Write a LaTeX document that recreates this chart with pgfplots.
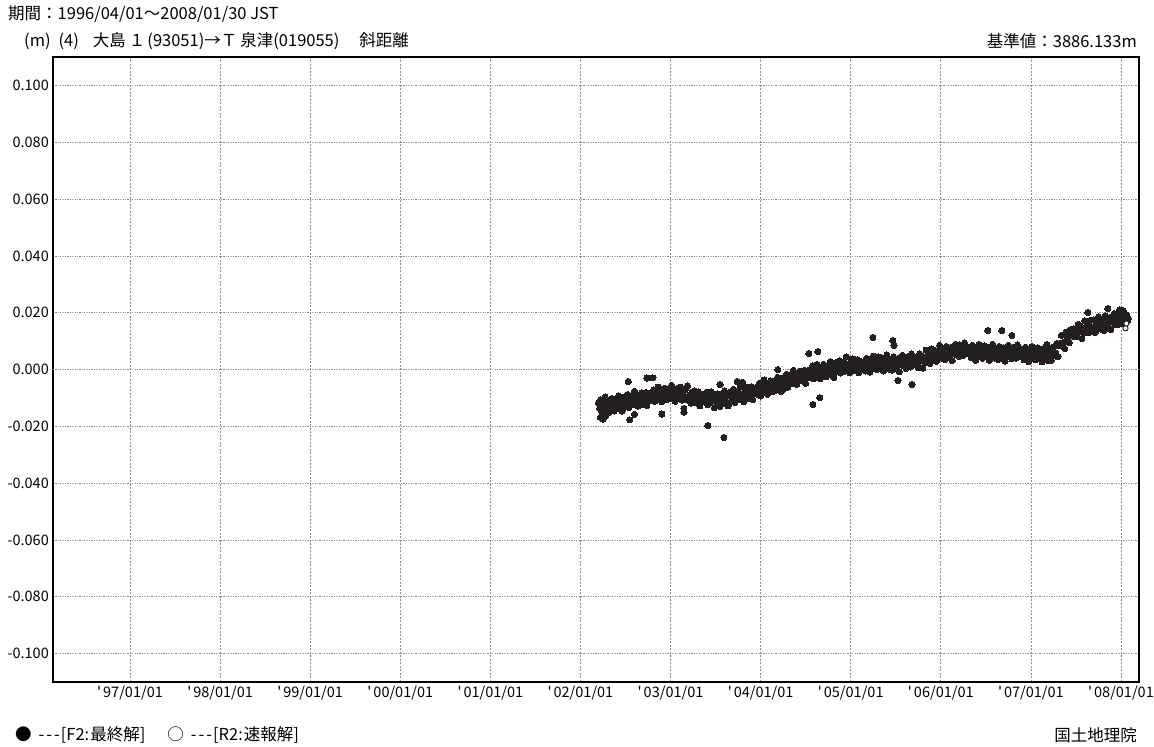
\documentclass[border=0pt]{standalone}
\usepackage{fontspec}
\setmainfont{Noto Sans CJK JP}
\usepackage{pgfplots}
\usepackage{pgfplotstable}
\pgfplotsset{compat=1.18}
\definecolor{dot}{HTML}{231F20}
\definecolor{gridc}{HTML}{8C8C8C}

% F2 final solutions: x = decimal year, y = slope-distance change in mm
\pgfplotstableread{
x y
2002.2000 -11.7
2002.2125 -13.7
2002.2250 -10.6
2002.2375 -15.0
2002.2500 -12.5
2002.2625 -14.1
2002.2750 -9.7
2002.2875 -12.9
2002.3000 -11.0
2002.3125 -15.3
2002.3250 -11.3
2002.3375 -13.3
2002.3500 -10.2
2002.3625 -12.8
2002.3750 -14.6
2002.3875 -10.5
2002.4000 -11.8
2002.4125 -13.7
2002.4250 -9.3
2002.4375 -12.8
2002.4500 -10.6
2002.4625 -14.6
2002.4750 -11.0
2002.4875 -9.7
2002.5000 -12.9
2002.5125 -11.4
2002.5250 -8.8
2002.5375 -13.4
2002.5500 -10.4
2002.5625 -11.7
2002.5750 -9.1
2002.5875 -12.4
2002.6000 -7.7
2002.6125 -11.8
2002.6250 -10.5
2002.6375 -12.9
2002.6500 -9.1
2002.6625 -10.5
2002.6750 -8.3
2002.6875 -12.3
2002.7000 -9.4
2002.7125 -10.6
2002.7250 -8.1
2002.7375 -12.7
2002.7500 -9.7
2002.7625 -8.4
2002.7750 -10.9
2002.7875 -8.3
2002.8000 -10.3
2002.8125 -7.2
2002.8250 -11.2
2002.8375 -8.7
2002.8500 -10.6
2002.8625 -6.2
2002.8750 -9.4
2002.8875 -7.0
2002.9000 -11.3
2002.9125 -7.7
2002.9250 -9.7
2002.9375 -6.6
2002.9500 -8.8
2002.9625 -10.6
2002.9750 -6.8
2002.9875 -8.1
2003.0000 -10.0
2003.0125 -5.6
2003.0250 -9.1
2003.0375 -7.2
2003.0500 -11.2
2003.0625 -7.6
2003.0750 -6.7
2003.0875 -9.9
2003.1000 -8.8
2003.1125 -6.2
2003.1250 -10.8
2003.1375 -8.1
2003.1500 -9.4
2003.1625 -7.2
2003.1750 -10.5
2003.1875 -5.8
2003.2000 -10.3
2003.2125 -9.0
2003.2250 -11.8
2003.2375 -8.0
2003.2500 -9.4
2003.2625 -7.6
2003.2750 -11.6
2003.2875 -9.2
2003.3000 -10.4
2003.3125 -7.9
2003.3250 -12.8
2003.3375 -9.8
2003.3500 -8.9
2003.3625 -11.4
2003.3750 -8.8
2003.3875 -11.1
2003.4000 -8.0
2003.4125 -12.4
2003.4250 -9.9
2003.4375 -11.8
2003.4500 -7.8
2003.4625 -11.0
2003.4750 -9.1
2003.4875 -13.4
2003.5000 -9.8
2003.5125 -11.7
2003.5250 -8.6
2003.5375 -11.2
2003.5500 -13.0
2003.5625 -9.2
2003.5750 -10.1
2003.5875 -12.0
2003.6000 -7.6
2003.6125 -11.1
2003.6250 -9.2
2003.6375 -12.8
2003.6500 -9.2
2003.6625 -7.9
2003.6750 -11.1
2003.6875 -10.0
2003.7000 -7.0
2003.7125 -11.6
2003.7250 -8.6
2003.7375 -9.9
2003.7500 -7.7
2003.7625 -10.5
2003.7750 -5.8
2003.7875 -9.9
2003.8000 -8.6
2003.8125 -11.4
2003.8250 -7.0
2003.8375 -8.4
2003.8500 -6.2
2003.8625 -10.2
2003.8750 -7.8
2003.8875 -8.5
2003.9000 -6.0
2003.9125 -10.6
2003.9250 -7.6
2003.9375 -6.7
2003.9500 -8.6
2003.9625 -6.0
2003.9750 -8.0
2003.9875 -4.9
2004.0000 -9.3
2004.0125 -6.2
2004.0250 -8.1
2004.0375 -3.7
2004.0500 -6.9
2004.0625 -5.0
2004.0750 -8.7
2004.0875 -5.1
2004.1000 -7.1
2004.1125 -4.0
2004.1250 -6.6
2004.1375 -7.8
2004.1500 -4.0
2004.1625 -5.3
2004.1750 -7.2
2004.1875 -2.8
2004.2000 -5.7
2004.2125 -3.8
2004.2250 -7.8
2004.2375 -4.2
2004.2500 -2.9
2004.2625 -5.4
2004.2750 -4.3
2004.2875 -1.7
2004.3000 -6.3
2004.3125 -3.3
2004.3250 -3.9
2004.3375 -1.7
2004.3500 -5.0
2004.3625 -0.3
2004.3750 -4.4
2004.3875 -2.4
2004.4000 -5.2
2004.4125 -1.4
2004.4250 -2.8
2004.4375 -0.6
2004.4500 -4.0
2004.4625 -1.6
2004.4750 -2.8
2004.4875 -0.3
2004.5000 -4.9
2004.5125 -1.3
2004.5250 -0.4
2004.5375 -2.9
2004.5500 -0.3
2004.5625 -2.3
2004.5750 1.2
2004.5875 -3.2
2004.6000 -0.7
2004.6125 -2.6
2004.6250 1.8
2004.6375 -0.9
2004.6500 1.0
2004.6625 -3.3
2004.6750 0.3
2004.6875 -1.7
2004.7000 1.8
2004.7125 -0.8
2004.7250 -2.6
2004.7375 1.2
2004.7500 -0.1
2004.7625 -1.6
2004.7750 2.8
2004.7875 -0.7
2004.8000 1.2
2004.8125 -2.8
2004.8250 1.2
2004.8375 2.5
2004.8500 -0.7
2004.8625 0.4
2004.8750 3.0
2004.8875 -1.2
2004.9000 1.8
2004.9125 0.5
2004.9250 2.7
2004.9375 -0.6
2004.9500 4.5
2004.9625 0.4
2004.9750 1.7
2004.9875 -1.1
2005.0000 2.7
2005.0125 1.5
2005.0250 3.7
2005.0375 -0.3
2005.0500 2.1
2005.0625 0.9
2005.0750 3.5
2005.0875 -1.1
2005.1000 1.9
2005.1125 2.8
2005.1250 0.3
2005.1375 0.6
2005.1500 2.6
2005.1625 -0.5
2005.1750 3.9
2005.1875 1.4
2005.2000 3.5
2005.2125 -0.9
2005.2250 2.3
2005.2375 0.4
2005.2500 4.7
2005.2625 1.1
2005.2750 3.1
2005.2875 0.0
2005.3000 2.6
2005.3125 4.4
2005.3250 0.7
2005.3375 2.0
2005.3500 3.9
2005.3625 -0.5
2005.3750 3.0
2005.3875 1.1
2005.4000 5.1
2005.4125 1.5
2005.4250 0.2
2005.4375 3.4
2005.4500 2.4
2005.4625 -0.2
2005.4750 4.4
2005.4875 1.4
2005.5000 2.7
2005.5125 0.6
2005.5250 3.9
2005.5375 -0.8
2005.5500 3.3
2005.5625 2.0
2005.5750 5.0
2005.5875 1.2
2005.6000 2.6
2005.6125 0.4
2005.6250 4.4
2005.6375 2.2
2005.6500 3.4
2005.6625 0.9
2005.6750 5.5
2005.6875 2.5
2005.7000 1.8
2005.7125 4.3
2005.7250 1.7
2005.7375 3.7
2005.7500 0.6
2005.7625 5.5
2005.7750 3.0
2005.7875 4.9
2005.8000 0.5
2005.8125 3.7
2005.8250 2.5
2005.8375 6.8
2005.8500 3.2
2005.8625 5.2
2005.8750 2.1
2005.8875 5.4
2005.9000 7.2
2005.9125 3.4
2005.9250 4.7
2005.9375 6.6
2005.9500 2.9
2005.9625 6.4
2005.9750 4.5
2005.9875 8.5
2006.0000 4.9
2006.0125 4.0
2006.0250 7.2
2006.0375 6.1
2006.0500 3.5
2006.0625 8.1
2006.0750 5.4
2006.0875 6.7
2006.1000 4.5
2006.1125 7.8
2006.1250 3.1
2006.1375 7.4
2006.1500 6.1
2006.1625 8.9
2006.1750 5.1
2006.1875 6.5
2006.2000 4.6
2006.2125 8.6
2006.2250 6.2
2006.2375 7.4
2006.2500 4.9
2006.2625 9.4
2006.2750 6.4
2006.2875 5.5
2006.3000 8.0
2006.3125 5.4
2006.3250 7.2
2006.3375 4.1
2006.3500 8.5
2006.3625 6.0
2006.3750 7.9
2006.3875 3.2
2006.4000 6.4
2006.4125 4.5
2006.4250 8.8
2006.4375 5.2
2006.4500 7.0
2006.4625 3.9
2006.4750 6.5
2006.4875 8.3
2006.5000 4.5
2006.5125 5.7
2006.5250 7.6
2006.5375 3.2
2006.5500 6.7
2006.5625 4.8
2006.5750 8.9
2006.5875 5.3
2006.6000 4.0
2006.6125 7.2
2006.6250 6.1
2006.6375 3.5
2006.6500 8.1
2006.6625 5.1
2006.6750 6.4
2006.6875 4.2
2006.7000 7.6
2006.7125 2.9
2006.7250 7.0
2006.7375 5.7
2006.7500 8.5
2006.7625 4.6
2006.7750 6.0
2006.7875 3.8
2006.8000 7.8
2006.8125 5.4
2006.8250 6.5
2006.8375 4.0
2006.8500 8.6
2006.8625 5.6
2006.8750 4.7
2006.8875 7.1
2006.9000 4.5
2006.9125 6.5
2006.9250 3.4
2006.9375 7.8
2006.9500 5.2
2006.9625 7.1
2006.9750 2.7
2006.9875 5.9
2007.0000 4.0
2007.0125 8.1
2007.0250 4.5
2007.0375 6.5
2007.0500 3.4
2007.0625 6.0
2007.0750 7.7
2007.0875 3.9
2007.1000 5.2
2007.1125 7.1
2007.1250 2.7
2007.1375 6.0
2007.1500 4.1
2007.1625 8.1
2007.1750 4.5
2007.1875 3.2
2007.2000 6.9
2007.2125 5.8
2007.2250 3.2
2007.2375 7.8
2007.2500 4.8
2007.2625 8.1
2007.2750 5.9
2007.2875 9.2
2007.3000 4.5
2007.3125 8.6
2007.3250 9.2
2007.3375 12.0
2007.3500 8.2
2007.3625 9.6
2007.3750 7.4
2007.3875 13.1
2007.4000 10.7
2007.4125 11.9
2007.4250 9.4
2007.4375 14.0
2007.4500 12.7
2007.4625 11.8
2007.4750 14.3
2007.4875 11.7
2007.5000 13.7
2007.5125 11.5
2007.5250 15.9
2007.5375 13.4
2007.5500 15.3
2007.5625 10.9
2007.5750 14.7
2007.5875 12.8
2007.6000 17.1
2007.6125 13.5
2007.6250 15.5
2007.6375 12.9
2007.6500 15.5
2007.6625 17.3
2007.6750 13.5
2007.6875 14.8
2007.7000 17.4
2007.7125 13.0
2007.7250 16.5
2007.7375 14.6
2007.7500 18.6
2007.7625 15.5
2007.7750 14.2
2007.7875 17.4
2007.8000 16.3
2007.8125 13.7
2007.8250 18.9
2007.8375 15.9
2007.8500 17.2
2007.8625 15.0
2007.8750 18.3
2007.8875 14.1
2007.9000 18.2
2007.9125 16.9
2007.9250 19.7
2007.9375 15.9
2007.9500 17.9
2007.9625 15.7
2007.9750 19.7
2007.9875 17.3
2008.0000 18.5
2008.0125 16.1
2008.0250 20.7
2008.0375 17.7
2008.0500 16.8
2008.0625 19.3
2008.0750 17.2
2008.0800 18.0
2002.2200 -16.8
2002.2500 -17.5
2002.2800 -16.2
2002.5300 -4.2
2002.5480 -17.7
2002.6000 -15.8
2002.7380 -3.0
2002.8050 -2.9
2002.9040 -15.7
2003.1480 -13.7
2003.1500 -15.0
2003.4140 -19.7
2003.5500 -5.3
2003.5920 -23.9
2003.7400 -4.2
2003.8000 -4.5
2004.1900 0.0
2004.2500 -7.0
2004.5350 5.6
2004.6350 6.3
2004.5800 -12.3
2004.6570 -9.9
2005.2460 11.3
2005.4680 10.2
2005.4800 8.5
2005.5240 -3.9
2005.6800 -5.3
2006.5220 13.7
2006.6780 13.7
2006.7890 12.0
2007.1770 8.8
2007.6320 20.1
2007.8540 21.5
2007.9870 21.0
}\fdata

% R2 rapid solutions
\pgfplotstableread{
x y
2008.0500 14.5
2008.0600 16.2
}\rdata

\begin{document}
\begin{tikzpicture}[x=1pt,y=1pt]
\useasboundingbox (0,0) rectangle (1154,747);
\begin{axis}[
  at={(53pt,65pt)}, anchor=south west,
  width=1086pt, height=625pt, scale only axis,
  xmin=1996.145, xmax=2008.2, ymin=-110, ymax=110,
  xtick={1997,1998,1999,2000,2001,2002,2003,2004,2005,2006,2007,2008},
  xticklabels={\textquotesingle\kern2pt 97/01/01,\textquotesingle\kern2pt 98/01/01,\textquotesingle\kern2pt 99/01/01,\textquotesingle\kern2pt 00/01/01,\textquotesingle\kern2pt 01/01/01,\textquotesingle\kern2pt 02/01/01,\textquotesingle\kern2pt 03/01/01,\textquotesingle\kern2pt 04/01/01,\textquotesingle\kern2pt 05/01/01,\textquotesingle\kern2pt 06/01/01,\textquotesingle\kern2pt 07/01/01,\textquotesingle\kern2pt 08/01/01},
  ytick={-100,-80,-60,-40,-20,0,20,40,60,80,100},
  yticklabels={-0.100,-0.080,-0.060,-0.040,-0.020,0.000,0.020,0.040,0.060,0.080,0.100},
  major tick length=0pt,
  grid=major,
  x grid style={gridc, line width=0.7pt, dash pattern=on 2pt off 1.5pt},
  y grid style={gridc, line width=0.7pt, dash pattern=on 1.2pt off 1.2pt},
  extra y ticks={0}, extra y tick labels={},
  extra y tick style={major grid style={solid, gray, line width=0.9pt}},
  axis line style={black, line width=1.6pt},
  tick label style={font=\fontsize{14.5}{16}\selectfont},
  yticklabel style={anchor=east, inner sep=0pt, xshift=-4pt},
  xticklabel style={anchor=north, inner sep=0pt, yshift=-4pt},
]
\addplot[only marks, mark=*, mark size=3.1pt, color=dot,
  mark options={draw=dot, fill=dot, line width=0pt}] table {\fdata};
\addplot[only marks, mark=*, mark size=2.6pt, color=dot,
  mark options={draw=dot, fill=white, line width=0.9pt}] table {\rdata};
\end{axis}
\node[anchor=west, inner sep=0pt, font=\fontsize{16.5}{18}\selectfont] at (8,733) {期間：1996/04/01～2008/01/30 JST};
\node[anchor=west, inner sep=0pt, font=\fontsize{16.5}{18}\selectfont] at (24,706) {(m)\kern8pt(4)\kern14pt大島\kern3pt１\kern2pt(93051)→Ｔ\kern3pt泉津(019055)\kern20pt 斜距離};
\node[anchor=east, inner sep=0pt, font=\fontsize{16.5}{18}\selectfont] at (1137,706) {基準値：3886.133m};
\node[anchor=west, inner sep=0pt, font=\fontsize{16.5}{18}\selectfont] at (15,12) {●\kern7pt-\kern2pt-\kern2pt-\kern1pt[F2:\kern1pt 最終解]\kern22pt ○\kern7pt-\kern2pt-\kern2pt-\kern1pt[R2:\kern1pt 速報解]};
\node[anchor=east, inner sep=0pt, font=\fontsize{16.5}{18}\selectfont] at (1137,12) {国土地理院};
\end{tikzpicture}
\end{document}
